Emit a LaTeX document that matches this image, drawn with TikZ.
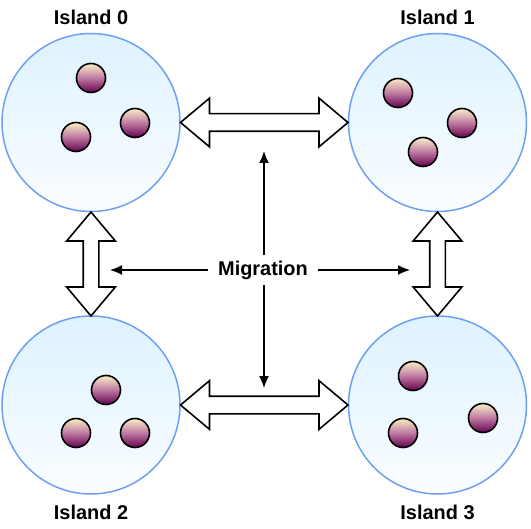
\documentclass[tikz,border=0pt]{standalone}
\usepackage{fontspec}
\setmainfont{Liberation Sans}
\usepackage{tikz}
\usetikzlibrary{positioning,shapes.arrows,arrows.meta}
\definecolor{islandedge}{RGB}{110,160,240}
\definecolor{islandtop}{RGB}{222,242,255}
\definecolor{islandbot}{RGB}{250,253,255}
\definecolor{indtop}{RGB}{250,238,198}
\definecolor{indmid}{RGB}{190,120,162}
\definecolor{indbot}{RGB}{100,0,78}

\begin{document}
\begin{tikzpicture}[x=1bp, y=-1bp,
	island/.style={circle, draw=islandedge, line width=1.5bp, inner sep=0, minimum size=178bp, top color=islandtop, bottom color=islandbot},
	indiv/.style={circle, draw=black, line width=1.6bp, inner sep=0, minimum size=29bp, top color=indtop, bottom color=indbot, middle color=indmid},
	title/.style={font=\fontsize{20}{24}\selectfont\bfseries, inner sep=0},
	blockarrow/.style={double arrow, draw=black, line width=1.6bp, fill=white, inner xsep=0, inner ysep=8bp, double arrow head extend=15.5bp, double arrow tip angle=80},
	thin/.style={line width=1.5bp, -{Latex[length=12bp,width=10bp]}}]
			\useasboundingbox (0,0) rectangle (531,529);
			\node[island] (i0) at (91,122.5){};
			\node[island] (i1) at (437.5,122.5){};
			\node[island] (i2) at (91,405){};
			\node[island] (i3) at (437.5,405){};
			
			\node[title, above=8bp of i0] (t0){Island 0};
			\node[title, above=8bp of i1] (t1){Island 1};
			\node[title, below=10bp of i2] (t2){Island 2};
			\node[title, below=10bp of i3] (t3){Island 3};
			
			\node[indiv] (p0a) at (91,78){};
			\node[indiv] (p0b) at (135,123){};
			\node[indiv] (p0c) at (76,137){};
			\node[indiv] (p1a) at (398,93){};
			\node[indiv] (p1b) at (462,123){};
			\node[indiv] (p1c) at (423,152){};
			\node[indiv] (p2a) at (106,390){};
			\node[indiv] (p2b) at (76,433){};
			\node[indiv] (p2c) at (135,433){};
			\node[indiv] (p3a) at (413,376){};
			\node[indiv] (p3b) at (483,418){};
			\node[indiv] (p3c) at (403,433){};
			
			\node[blockarrow, minimum height=167.5bp] (m01) at (264.25,122.5){};
			\node[blockarrow, minimum height=167.5bp] (m23) at (264.25,405){};
			\node[blockarrow, minimum height=104bp, inner ysep=7bp, double arrow head extend=16.5bp, rotate=90] (m02) at (91,264){};
			\node[blockarrow, minimum height=104bp, inner ysep=7bp, double arrow head extend=16.5bp, rotate=90] (m13) at (437.5,264){};
			
			\node[title, inner xsep=10bp, inner ysep=5bp] (mig) at (263,270){Migration};
			\coordinate (up) at (264,151);
			\coordinate (down) at (264,388);
			\coordinate (left) at (110,270);
			\coordinate (right) at (410,270);
			
			\draw[thin] (mig.north -| up) -- (up);
			\draw[thin] (mig.south -| down) -- (down);
			\draw[thin] (mig.west) -- (left);
			\draw[thin] (mig.east) -- (right);
			\end{tikzpicture}
\end{document}
